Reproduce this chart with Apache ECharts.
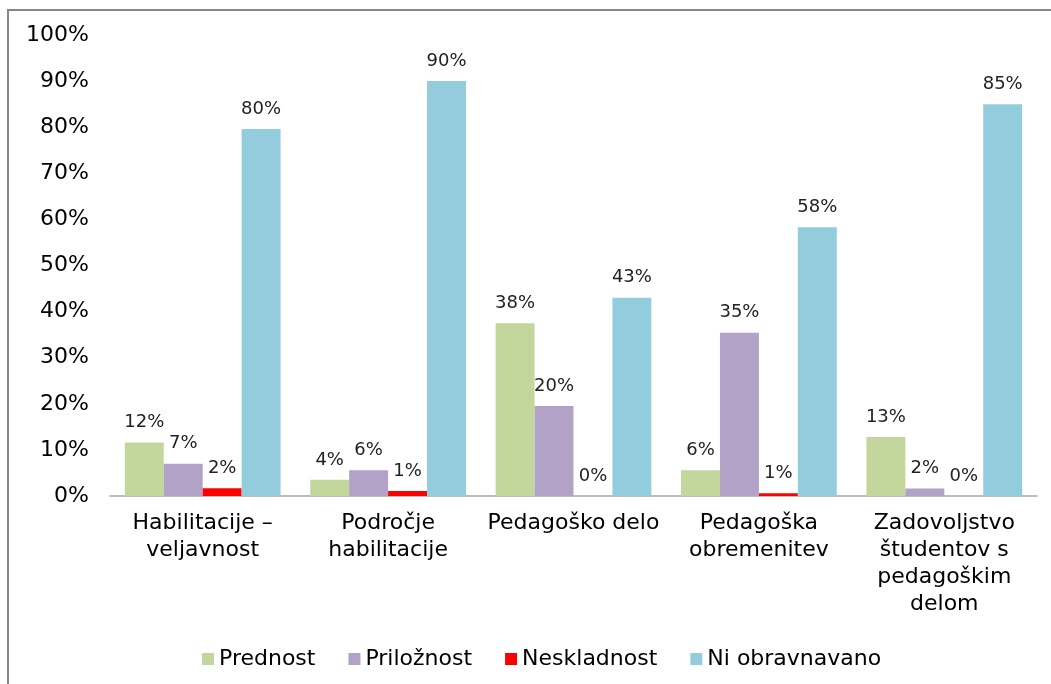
<!DOCTYPE html>
<html>
<head>
<meta charset="utf-8">
<script src="https://cdn.jsdelivr.net/npm/echarts@6/dist/echarts.min.js"></script>
<style>
html, body { margin: 0; padding: 0; background: #fff; }
#chart { width: 1051px; height: 684px; }
</style>
</head>
<body>
<div id="chart"></div>
<script>
// kategorije in vrednosti (v %)
var categories = ['Habilitacije –\nveljavnost', 'Področje\nhabilitacije', 'Pedagoško delo', 'Pedagoška\nobremenitev', 'Zadovoljstvo\nštudentov s\npedagoškim\ndelom'];
var prednost = [11.6, 3.5, 37.5, 5.6, 12.8];
var priloznost = [7.0, 5.6, 19.5, 35.4, 1.6];
var neskladnost = [1.7, 1.1, 0, 0.6, 0];
var niObravnavano = [79.6, 90.0, 43.0, 58.3, 85.0];

var seriesNames = ['Prednost', 'Priložnost', 'Neskladnost', 'Ni obravnavano'];
var seriesData = [prednost, priloznost, neskladnost, niObravnavano];
var colors = ['#C3D69B', '#B2A2C7', '#FF0000', '#93CDDD'];

var myChart = echarts.init(document.getElementById('chart'));

var option = {
    color: colors,
    animation: false,
    textStyle: { fontFamily: 'DejaVu Sans' },
    graphic: [{
        type: 'rect',
        shape: { x: 8, y: 10, width: 1200, height: 800 },
        style: { fill: 'none', stroke: '#868686', lineWidth: 2 },
        silent: true
    }],
    grid: {
        left: 110,
        right: 14,
        top: 35,
        bottom: 188
    },
    legend: {
        left: 197,
        top: 643,
        itemWidth: 12,
        itemHeight: 12,
        itemGap: 33,
        icon: 'rect',
        textStyle: { fontSize: 22, color: '#000' },
        data: seriesNames
    },
    xAxis: {
        type: 'category',
        data: categories,
        axisTick: { show: false },
        axisLine: { lineStyle: { color: '#A6A6A6', width: 1.5 } },
        axisLabel: {
            interval: 0,
            fontSize: 22,
            lineHeight: 27,
            color: '#000',
            margin: 14
        }
    },
    yAxis: {
        type: 'value',
        min: 0,
        max: 100,
        interval: 10,
        splitLine: { show: false },
        axisLine: { show: false },
        axisTick: { show: false },
        axisLabel: {
            formatter: '{value}%',
            fontSize: 22,
            color: '#000',
            margin: 21
        }
    },
    series: seriesNames.map(function (name, i) {
        return {
            name: name,
            type: 'bar',
            data: seriesData[i],
            barGap: '0%',
            barCategoryGap: '16%',
            label: {
                show: true,
                position: 'top',
                distance: 11,
                fontSize: 18,
                color: '#222',
                formatter: function (p) { return Math.round(p.value) + '%'; }
            }
        };
    })
};

myChart.setOption(option);
</script>
</body>
</html>
